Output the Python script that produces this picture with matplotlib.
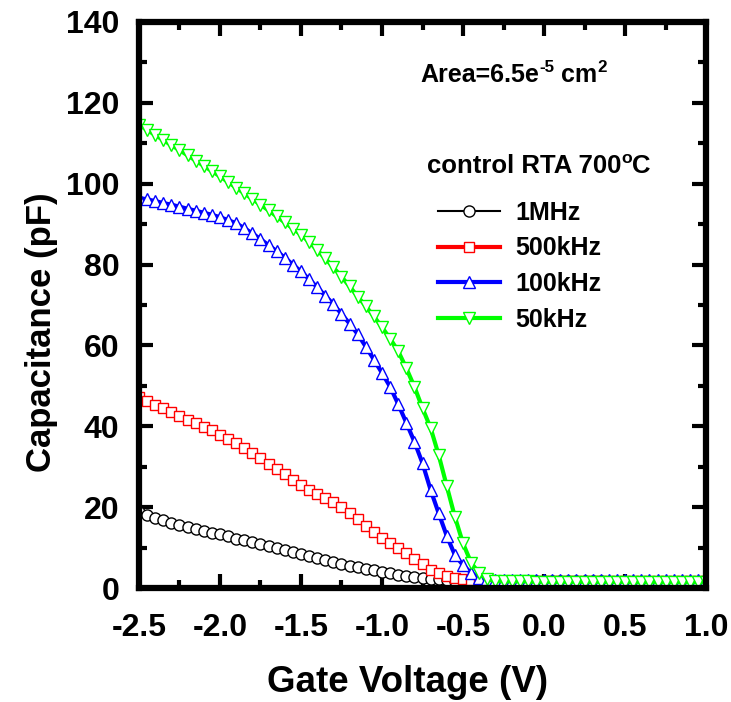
import matplotlib
matplotlib.use("Agg")
import matplotlib.pyplot as plt
import numpy as np
from matplotlib.ticker import MultipleLocator, FormatStrFormatter

plt.rcParams['font.family'] = ['Liberation Sans', 'DejaVu Sans']
plt.rcParams['font.weight'] = 'bold'
plt.rcParams['axes.unicode_minus'] = False

# gate voltage sweep, 0.05 V step
voltage = np.linspace(-2.5, 1.0, 71)

c_1mhz = [18.8, 18.1, 17.4, 16.8, 16.2, 15.7, 15.2, 14.7, 14.2, 13.7,
          13.3, 12.8, 12.3, 11.9, 11.4, 11.0, 10.5, 10.0, 9.5, 9.0,
          8.5, 8.0, 7.5, 7.0, 6.6, 6.1, 5.6, 5.2, 4.8, 4.4,
          4.0, 3.7, 3.4, 3.1, 2.8, 2.6, 2.4, 2.2, 2.0, 1.9,
          1.8, 1.8, 1.7, 1.7, 1.7,
          1.7, 1.7, 1.7, 1.7, 1.7, 1.7, 1.7, 1.7, 1.7, 1.7, 1.7, 1.7, 1.7,
          1.6, 1.6, 1.6, 1.6, 1.6, 1.6, 1.6, 1.6, 1.6, 1.6, 1.6, 1.6, 1.6]

c_500khz = [47.3, 46.4, 45.4, 44.5, 43.6, 42.6, 41.7, 40.8, 39.9, 39.0,
            38.0, 36.9, 35.8, 34.6, 33.4, 32.1, 30.8, 29.5, 28.2, 26.8,
            25.4, 24.3, 23.3, 22.3, 21.2, 20.0, 18.6, 17.1, 15.5, 13.9,
            12.4, 11.2, 9.9, 8.6, 7.2, 5.9, 4.6, 3.7, 3.0, 2.6,
            2.2, 2.0, 1.9, 1.9, 1.9,
            1.9, 1.9, 1.9, 1.9, 1.9, 1.9, 1.9, 1.9, 1.9, 1.9, 1.9, 1.9, 1.9,
            1.9, 1.9, 1.9, 1.9, 1.9, 1.9, 1.9, 1.9, 1.9, 1.9, 1.9, 1.9, 1.9]

c_100khz = [96.5, 96.1, 95.7, 95.2, 94.8, 94.3, 93.8, 93.3, 92.8, 92.3,
            91.7, 91.0, 90.2, 89.0, 87.7, 86.3, 84.8, 83.3, 81.7, 80.0,
            78.3, 76.4, 74.4, 72.3, 70.2, 67.8, 65.4, 62.8, 59.7, 56.5,
            53.2, 49.8, 45.5, 40.9, 36.2, 30.9, 24.3, 18.5, 12.9, 8.2,
            5.7, 3.8, 2.5, 2.2, 2.1,
            2.1, 2.1, 2.1, 2.1, 2.1, 2.1, 2.1, 2.1, 2.1, 2.1, 2.1, 2.1, 2.1,
            2.1, 2.1, 2.1, 2.1, 2.1, 2.1, 2.1, 2.1, 2.1, 2.1, 2.1, 2.1, 2.1]

c_50khz = [114.5, 113.3, 112.0, 110.8, 109.5, 108.3, 107.0, 105.7, 104.4, 103.1,
           101.8, 100.4, 99.0, 97.6, 96.2, 94.8, 93.4, 91.9, 90.4, 88.9,
           87.4, 85.6, 83.6, 81.5, 79.3, 77.0, 74.6, 72.1, 69.7, 67.2,
           64.5, 61.7, 58.6, 54.4, 49.8, 44.5, 39.6, 32.9, 25.2, 17.6,
           11.1, 6.3, 3.7, 2.2, 1.8,
           1.7, 1.7, 1.7, 1.7, 1.6, 1.6, 1.6, 1.6, 1.6, 1.6, 1.6, 1.6, 1.6,
           1.6, 1.6, 1.6, 1.5, 1.5, 1.5, 1.5, 1.5, 1.5, 1.5, 1.5, 1.5, 1.5]

labels = ['1MHz', '500kHz', '100kHz', '50kHz']
colors = ['black', 'red', 'blue', '#00ff00']
markers = ['o', 's', '^', 'v']
msizes = [8, 7.5, 8.5, 8.5]
widths = [1.5, 3, 3, 3]
series = [c_1mhz, c_500khz, c_100khz, c_50khz]

fig = plt.figure(figsize=(7.31, 7.02), dpi=100)
ax = fig.add_axes([0.190, 0.162, 0.776, 0.807])

for y, lab, col, mk, ms, lw in zip(series, labels, colors, markers, msizes, widths):
    ax.plot(voltage, y, color=col, lw=lw, marker=mk, ms=ms,
            mfc='white', mec=col, mew=1.0, label=lab)

ax.set_xlim(-2.5, 1.0)
ax.set_ylim(0, 140)
ax.xaxis.set_major_locator(MultipleLocator(0.5))
ax.xaxis.set_minor_locator(MultipleLocator(0.25))
ax.xaxis.set_major_formatter(FormatStrFormatter('%.1f'))
ax.yaxis.set_major_locator(MultipleLocator(20))
ax.yaxis.set_minor_locator(MultipleLocator(10))

for s in ax.spines.values():
    s.set_linewidth(4.5)
ax.tick_params(which='both', direction='in', top=True, right=True)
ax.tick_params(which='major', length=10, width=3)
ax.tick_params(which='minor', length=6, width=3)
ax.tick_params(axis='x', labelsize=23, pad=18)
ax.tick_params(axis='y', labelsize=23, pad=14)

ax.set_xlabel('Gate Voltage (V)', fontsize=26.5, fontweight='bold', labelpad=16, x=0.474)
ax.set_ylabel('Capacitance (pF)', fontsize=25, fontweight='bold', labelpad=6, y=0.452)


def text_with_sups(parts, x_px, y_px, size):
    # parts: list of (string, is_superscript); keeps the plain hyphen in exponents
    r = fig.canvas.get_renderer()
    W, H = fig.bbox.width, fig.bbox.height
    x = x_px
    for txt, sup in parts:
        fs = size * 0.68 if sup else size
        dy = size * 0.55 if sup else 0
        t = fig.text(x / W, (H - y_px + dy) / H, txt, fontsize=fs,
                     fontweight='bold', va='baseline')
        x = t.get_window_extent(r).x1


text_with_sups([('Area=6.5e', False), ('-5', True), (' cm', False), ('2', True)],
               420, 82, 18)
text_with_sups([('control RTA 700', False), ('o', True), ('C', False)],
               427, 173, 18.5)

ax.legend(loc='upper left', bbox_to_anchor=(0.5855, 0.7286),
          bbox_transform=fig.transFigure, frameon=False,
          fontsize=18, handlelength=2.48, handletextpad=0.6, labelspacing=0.47,
          borderaxespad=0)

fig.savefig('out.png', dpi=100)
